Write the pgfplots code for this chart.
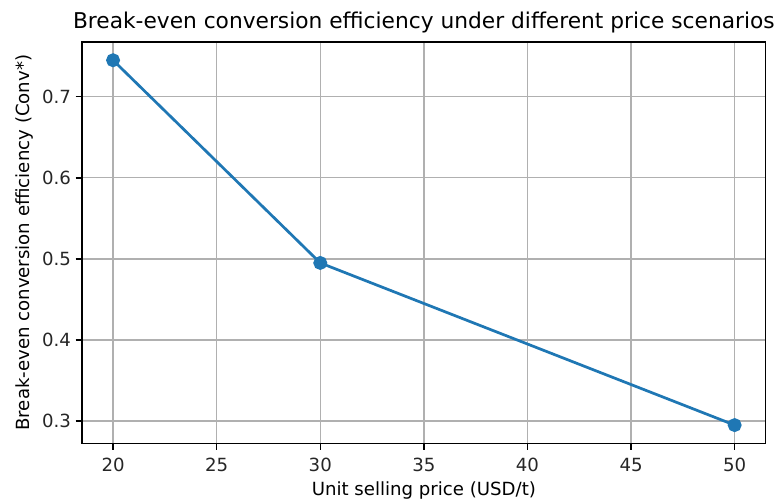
\documentclass[border=0pt]{standalone}
\usepackage{fontspec}
\setmainfont{DejaVu Sans}
\usepackage{pgfplots}
\pgfplotsset{compat=1.18}
\definecolor{mplblue}{HTML}{1F77B4}
\definecolor{mplgrid}{HTML}{B0B0B0}
\begin{document}
\begin{tikzpicture}
\begin{axis}[
    name=ax,
    scale only axis,
    width=512.8pt,
    height=301pt,
    xmin=18.5, xmax=51.5,
    ymin=0.2725, ymax=0.7675,
    xtick={20,25,30,35,40,45,50},
    ytick={0.3,0.4,0.5,0.6,0.7},
    yticklabel style={/pgf/number format/fixed, /pgf/number format/precision=1},
    xticklabel style={yshift=-2.5pt},
    /pgf/number format/assume math mode=true,
    tick label style={font=\fontsize{13.6pt}{15pt}\selectfont, text=black!85},
    label style={font=\fontsize{13.6pt}{15pt}\selectfont},
    xlabel style={yshift=-1pt},
    title style={font=\fontsize{16.3pt}{18pt}\selectfont, yshift=-3pt},
    title={Break-even conversion efficiency under different price scenarios},
    xlabel={Unit selling price (USD/t)},
    ylabel={Break-even conversion efficiency (Conv*)},
    grid=major,
    grid style={line width=1pt, draw=mplgrid},
    axis line style={line width=1.05pt},
    tick style={line width=1.05pt, black},
    tick align=outside,
    major tick length=4.8pt,
    xtick pos=bottom, ytick pos=left,
]
\addplot[color=mplblue, line width=2.05pt, mark=*, mark size=4.2pt, mark options={fill=mplblue, draw=mplblue}]
    coordinates {
        (20,0.745)
        (30,0.495)
        (50,0.295)
    };
\end{axis}
\pgfresetboundingbox
\path[use as bounding box] ([xshift=-61.5pt,yshift=-44.8pt]ax.south west) rectangle ([xshift=10.7pt,yshift=31.5pt]ax.north east);
\end{tikzpicture}
\end{document}
